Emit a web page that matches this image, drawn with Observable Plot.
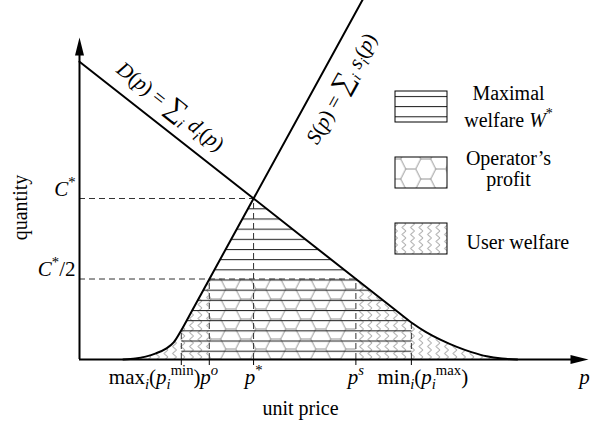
<!DOCTYPE html>
<html><head><meta charset="utf-8">
<script src="https://cdn.jsdelivr.net/npm/d3@7"></script>
<script src="https://cdn.jsdelivr.net/npm/@observablehq/plot@0.6"></script>
<style>
body{margin:0;background:#fff;}
#chart{width:595px;height:425px;}
</style></head><body><div id="chart"></div>
<script>
// ---- data (price 0..100, quantity 0..111.5) ----
const supplyP = [8.6, 11, 13, 15, 17, 18.5, 20, 22, 34.2, 57];
const supplyQ = [0, 0.3, 0.9, 1.9, 3.4, 5.3, 9.1, 14.86, 50, 115.7];
const demandP = [0, 34.2, 62, 65.2, 68, 71, 74, 77, 80, 83, 86];
const demandQ = [92.5, 50, 15.45, 11.5, 8.6, 6.1, 4.0, 2.3, 1.0, 0.3, 0];
const priceTicks = [20, 25.5, 34.2, 54.3, 65.2]; // max p_min, p^o, p*, p^s, min p_max
const priceTickLabels = [
  "max<sub><i>i</i></sub>(<i>p</i><sub><i>i</i></sub><sup>min</sup>)",
  "<i>p</i><sup><i>o</i></sup>",
  "<i>p</i><sup>*</sup>",
  "<i>p</i><sup><i>s</i></sup>",
  "min<sub><i>i</i></sub>(<i>p</i><sub><i>i</i></sub><sup>max</sup>)"
];
const cStar = 50;
const quantityTicks = [50, 25];
const quantityTickLabels = ["<i>C</i><sup>*</sup>", "<i>C</i><sup>*</sup>/2"];
const legendLines = [["Maximal", "welfare <i>W</i><sup>*</sup>"], ["Operator\u2019s", "profit"], ["User welfare"]];
const legendPatterns = ["url(#hl)", "url(#hex)", "url(#zig)"];
const xAxisTitle = "unit price";
const yAxisTitle = "quantity";
const demandLabel = "<i>D</i>(<i>p</i>) = <big>\u2211</big><sub><i>i</i></sub> <i>d</i><sub><i>i</i></sub>(<i>p</i>)";
const supplyLabel = "<i>S</i>(<i>p</i>) = <big>\u2211</big><sub><i>i</i></sub> <i>s</i><sub><i>i</i></sub>(<i>p</i>)";

// ---- layout helpers (pixel -> data for annotations) ----
const X = px => (px - 79) / 5.09;
const Y = py => (359 - py) / (359 / 111.5);

const supply = supplyP.map((p, i) => ({p, q: supplyQ[i]}));
const demand = demandP.map((p, i) => ({p, q: demandQ[i]}));
const [pMin, pO, pStar, pS, pMax] = priceTicks;
const half = cStar / 2;
const sAt = p => supply.find(d => d.p === p).q;
const dAt = p => demand.find(d => d.p === p).q;
const userLeft = supply.filter(d => d.p <= pMin).concat([{p: pO, q: half}]);
const userRight = [{p: pS, q: half}].concat(demand.filter(d => d.p >= pMax));
const welfare = [{p: pMin, q: 0}, {p: pMin, q: sAt(pMin)}, {p: pStar, q: cStar}, {p: pMax, q: dAt(pMax)}, {p: pMax, q: 0}];

const arrowUp = {draw(ctx) { ctx.moveTo(0, 0); ctx.lineTo(4.5, 18); ctx.lineTo(-4.5, 18); ctx.closePath(); }};
const arrowRight = {draw(ctx) { ctx.moveTo(0, 0); ctx.lineTo(-18, 4.5); ctx.lineTo(-18, -4.5); ctx.closePath(); }};

const FS = 20, FSM = 21;
const dash = {stroke: "#333", strokeWidth: 1, strokeDasharray: "6,4"};
const labelX = [X(200), pO, pStar, pS, X(377)];
const anchors = ["end", "middle", "middle", "middle", "start"];
const boxTops = [91, 157, 223];

const marks = [
  Plot.areaY(userLeft, {x: "p", y: "q", curve: "monotone-x", fill: "url(#zig)"}),
  Plot.areaY(userRight, {x: "p", y: "q", curve: "monotone-x", fill: "url(#zig)"}),
  Plot.rect([0], {x1: pO, x2: pS, y1: 0, y2: half, fill: "url(#hex)"}),
  Plot.line(welfare, {x: "p", y: "q", fill: "url(#hl)", stroke: "none"}),
  Plot.ruleY([cStar], {x1: 0, x2: pStar, ...dash}),
  Plot.ruleY([half], {x1: 0, x2: pS, ...dash}),
  Plot.ruleX([pStar], {y1: 0, y2: cStar, ...dash}),
  Plot.ruleX([pO, pS], {y1: 0, y2: half, ...dash}),
  Plot.ruleX([pMin], {y1: 0, y2: sAt(pMin), ...dash}),
  Plot.ruleX([pMax], {y1: 0, y2: dAt(pMax), ...dash}),
  Plot.ruleX(priceTicks, {y1: 0, y2: Y(365), stroke: "black", strokeWidth: 1}),
  Plot.line(supply, {x: "p", y: "q", curve: "monotone-x", stroke: "black", strokeWidth: 2}),
  Plot.line(demand, {x: "p", y: "q", curve: "monotone-x", stroke: "black", strokeWidth: 2}),
  Plot.ruleX([0], {y1: 0, y2: Y(50), stroke: "black", strokeWidth: 2}),
  Plot.ruleY([0], {x1: 0, x2: X(575), stroke: "black", strokeWidth: 2}),
  Plot.dot([0], {x: 0, y: Y(37), symbol: arrowUp, fill: "black", stroke: "none"}),
  Plot.dot([0], {x: X(588), y: 0, symbol: arrowRight, fill: "black", stroke: "none"}),
  ...priceTickLabels.map((t, i) => Plot.text([t], {x: labelX[i], y: Y(383), text: d => d, textAnchor: anchors[i], lineAnchor: "bottom", fontSize: FSM})),
  Plot.text(["<i>p</i>"], {x: X(584), y: Y(383), text: d => d, lineAnchor: "bottom", fontSize: FSM}),
  Plot.text([xAxisTitle], {x: X(300), y: Y(414), text: d => d, lineAnchor: "bottom", fontSize: FS}),
  Plot.text(quantityTickLabels, {x: X(75), y: (d, i) => Y([195, 275][i]), text: d => d, textAnchor: "end", lineAnchor: "bottom", fontSize: FSM}),
  Plot.text([yAxisTitle], {x: X(20), y: Y(207), text: d => d, rotate: -90, fontSize: FS}),
  Plot.text([demandLabel], {x: X(170), y: Y(106), text: d => d, rotate: 38.2, fontSize: 21}),
  Plot.text([supplyLabel], {x: X(341), y: Y(88), text: d => d, rotate: -60.9, fontSize: 21}),
  Plot.rect(legendPatterns, {x1: X(395), x2: X(447), y1: (d, i) => Y(boxTops[i]), y2: (d, i) => Y(boxTops[i] + 31), fill: d => d, stroke: "black", strokeWidth: 1}),
  Plot.text(legendLines[0], {x: X(508), y: (d, i) => Y([99, 126][i]), text: d => d, lineAnchor: "bottom", fontSize: FS}),
  Plot.text(legendLines[1], {x: X(508), y: (d, i) => Y([164, 185][i]), text: d => d, lineAnchor: "bottom", fontSize: FS}),
  Plot.text(legendLines[2], {x: X(466), y: Y(248), text: d => d, textAnchor: "start", lineAnchor: "bottom", fontSize: FS})
];

const svg = Plot.plot({
  width: 595, height: 425,
  marginLeft: 79, marginRight: 7, marginTop: 0, marginBottom: 66,
  x: {domain: [0, 100], axis: null},
  y: {domain: [0, 111.5], axis: null},
  style: {fontFamily: "'Liberation Serif', 'Times New Roman', serif", fontSize: FS + "px", background: "white", color: "black"},
  marks
});
document.getElementById("chart").appendChild(svg);

// ---- patterns ----
const ns = "http://www.w3.org/2000/svg";
const defs = document.createElementNS(ns, "defs");
const s = 10, h = 20;
defs.innerHTML = `
<pattern id="hl" patternUnits="userSpaceOnUse" x="0" y="207.8" width="20" height="10.17">
  <line x1="0" y1="0.5" x2="20" y2="0.5" stroke="#222" stroke-width="1.1"/>
</pattern>
<pattern id="hex" patternUnits="userSpaceOnUse" x="25.7" y="279" width="${3*s}" height="${h}">
  <rect width="${3*s}" height="${h}" fill="white"/>
  <path d="M0,${h/2} L${s/2},0 L${1.5*s},0 L${2*s},${h/2} L${1.5*s},${h} L${s/2},${h} Z M${2*s},${h/2} L${3*s},${h/2}" fill="none" stroke="#777" stroke-width="0.8"/>
</pattern>
<pattern id="zig" patternUnits="userSpaceOnUse" x="0" y="0" width="8.5" height="7">
  <path d="M6.5,0 L2.5,3.5 L6.5,7" fill="none" stroke="#888" stroke-width="0.9"/>
</pattern>`;
svg.insertBefore(defs, svg.firstChild);

// ---- rich text: italics, sub/superscripts, large operator ----
function richify(root) {
  root.querySelectorAll("text").forEach(t => {
    const src = t.textContent;
    if (!src.includes("<")) return;
    const fs = parseFloat(getComputedStyle(t).fontSize) || FS;
    t.textContent = "";
    const tokens = src.match(/<\/?(?:i|sub|sup|big)>|[^<]+/g);
    let italic = false, big = false, level = 0, offset = 0;
    for (const tok of tokens) {
      if (tok === "<i>") italic = true;
      else if (tok === "</i>") italic = false;
      else if (tok === "<big>") big = true;
      else if (tok === "</big>") big = false;
      else if (tok === "<sub>") level = 1;
      else if (tok === "<sup>") level = -1;
      else if (tok === "</sub>" || tok === "</sup>") level = 0;
      else {
        const ts = document.createElementNS(ns, "tspan");
        ts.textContent = tok;
        const target = level === 1 ? 0.25 * fs : level === -1 ? -0.42 * fs : 0;
        ts.setAttribute("dy", (target - offset).toFixed(2));
        offset = target;
        if (italic) ts.setAttribute("font-style", "italic");
        if (level !== 0) ts.setAttribute("font-size", (0.7 * fs).toFixed(2) + "px");
        else if (big) ts.setAttribute("font-size", (1.3 * fs).toFixed(2) + "px");
        t.appendChild(ts);
      }
    }
  });
}
richify(svg);
</script></body></html>
